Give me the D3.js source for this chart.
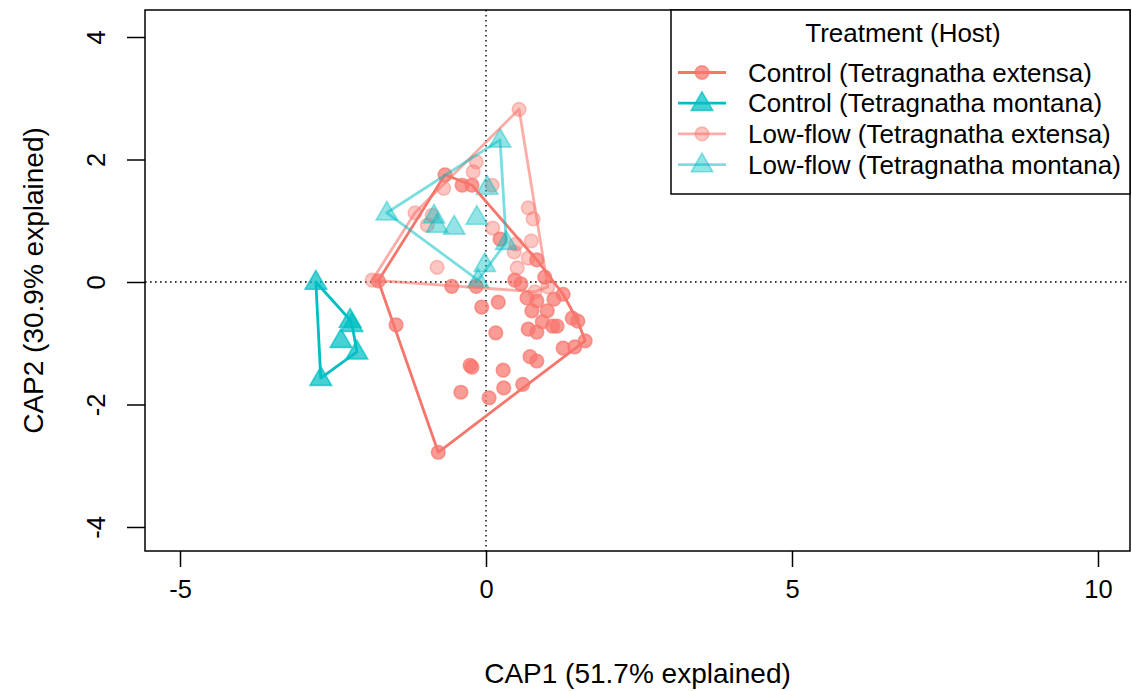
<!DOCTYPE html>
<html>
<head>
<meta charset="utf-8">
<script src="https://cdn.jsdelivr.net/npm/d3@7"></script>
<style>
  html, body { margin: 0; padding: 0; background: #fff; }
  svg { display: block; font-family: "Liberation Sans", Arial, sans-serif; }
</style>
</head>
<body>
<svg id="chart" width="1132" height="691"></svg>
<script>
// CAP ordination scores, one array pair per treatment × host group
const groupNames = [
  "Control (Tetragnatha extensa)",
  "Control (Tetragnatha montana)",
  "Low-flow (Tetragnatha extensa)",
  "Low-flow (Tetragnatha montana)"
];

const ctrlExtensaCAP1 = [-0.67, -0.39, -0.23, -1.76, -0.56, -0.16, 0.23, 0.83, 0.96, 0.47,
  0.57, 1.26, -0.07, 0.20, 0.16, -0.26, -0.23, 0.28, -0.41, 0.05,
  0.29, 0.60, 0.67, 0.83, 0.75, 1.00, 1.11, 0.92, 0.69, 0.83,
  1.09, 1.16, 1.41, 1.50, 1.62, 1.26, 1.45, 0.72, 0.83, -1.47, -0.78];
const ctrlExtensaCAP2 = [1.75, 1.58, 1.58, 0.02, -0.07, -0.07, 0.70, 0.36, 0.08, 0.03,
  -0.03, -0.20, -0.41, -0.33, -0.83, -1.36, -1.39, -1.44, -1.80, -1.89,
  -1.73, -1.67, -0.26, -0.31, -0.47, -0.47, -0.28, -0.65, -0.77, -0.82,
  -0.72, -0.72, -0.59, -0.64, -0.96, -1.08, -1.06, -1.22, -1.29, -0.70, -2.78];

const ctrlMontanaCAP1 = [-2.78, -2.22, -2.19, -2.37, -2.11, -2.70];
const ctrlMontanaCAP2 = [0.00, -0.62, -0.69, -0.95, -1.14, -1.57];

const lowExtensaCAP1 = [0.54, -0.16, -0.21, 0.10, -0.69, -1.16, -0.96, -0.88, -0.80, -1.86,
  0.69, 0.77, 0.11, 0.74, 0.49, 0.46, 0.51, 0.69, 0.80, 1.01];
const lowExtensaCAP2 = [2.82, 1.96, 1.80, 1.58, 1.53, 1.13, 0.93, 1.09, 0.24, 0.03,
  1.21, 1.03, 0.88, 0.67, 0.62, 0.49, 0.23, 0.39, -0.16, -0.08];

const lowMontanaCAP1 = [0.23, -1.62, -0.85, -0.80, -0.52, -0.15, 0.02, 0.33, -0.02, -0.13];
const lowMontanaCAP2 = [2.32, 1.13, 1.08, 0.93, 0.90, 1.06, 1.55, 0.65, 0.29, 0.03];

const xTicks = [-5, 0, 5, 10];
const yTicks = [-4, -2, 0, 2, 4];

const legendTitle = "Treatment (Host)";
const xTitle = "CAP1 (51.7% explained)";
const yTitle = "CAP2 (30.9% explained)";

// Styling per group
const groupStyles = [
  { shape: "circle",   point: "rgba(248,118,109,0.72)", line: "rgb(246,118,108)" },
  { shape: "triangle", point: "rgba(0,191,196,0.72)",   line: "rgb(0,190,195)" },
  { shape: "circle",   point: "rgba(248,118,109,0.42)", line: "rgba(248,118,109,0.6)" },
  { shape: "triangle", point: "rgba(0,191,196,0.42)",   line: "rgba(0,191,196,0.52)" }
];

const groups = [
  [ctrlExtensaCAP1, ctrlExtensaCAP2],
  [ctrlMontanaCAP1, ctrlMontanaCAP2],
  [lowExtensaCAP1, lowExtensaCAP2],
  [lowMontanaCAP1, lowMontanaCAP2]
].map(([xs, ys], i) => ({
  name: groupNames[i],
  style: groupStyles[i],
  pts: xs.map((x, j) => [x, ys[j]])
}));

const FONT = "25.5px";
const LEGEND_FONT = "26px";
const TITLE_FONT = "28px";
const svg = d3.select("#chart");
const plot = { left: 145, right: 1130, top: 10, bottom: 551 };

const x = d3.scaleLinear().domain([-5.572, 10.523]).range([plot.left, plot.right]);
const y = d3.scaleLinear().domain([-4.392, 4.441]).range([plot.bottom, plot.top]);

const triangle = d3.symbol().type(d3.symbolTriangle).size(200);

function drawMarker(sel, style) {
  if (style.shape === "circle") {
    sel.append("circle").attr("r", 6.8)
      .attr("fill", style.point).attr("stroke", style.point).attr("stroke-width", 1.6);
  } else {
    sel.append("path").attr("d", triangle).attr("transform", "translate(0,1)")
      .attr("fill", style.point).attr("stroke", style.point).attr("stroke-width", 1.6)
      .attr("stroke-linejoin", "miter");
  }
}

// Reference lines through the origin
const clipId = "plotClip";
svg.append("clipPath").attr("id", clipId).append("rect")
  .attr("x", plot.left).attr("y", plot.top)
  .attr("width", plot.right - plot.left).attr("height", plot.bottom - plot.top);

const inner = svg.append("g").attr("clip-path", `url(#${clipId})`);

inner.append("line")
  .attr("x1", plot.left).attr("x2", plot.right)
  .attr("y1", y(0)).attr("y2", y(0))
  .attr("stroke", "#000").attr("stroke-width", 1.4).attr("stroke-dasharray", "1.6,3.4");
inner.append("line")
  .attr("x1", x(0)).attr("x2", x(0))
  .attr("y1", plot.top).attr("y2", plot.bottom)
  .attr("stroke", "#000").attr("stroke-width", 1.4).attr("stroke-dasharray", "1.6,3.4");

// Points
groups.forEach(g => {
  const pg = inner.append("g");
  g.pts.forEach(p => {
    const m = pg.append("g").attr("transform", `translate(${x(p[0])},${y(p[1])})`);
    drawMarker(m, g.style);
  });
});

// Convex hulls around each group
groups.forEach(g => {
  const hull = d3.polygonHull(g.pts.map(p => [x(p[0]), y(p[1])]));
  inner.append("path")
    .attr("d", "M" + hull.map(p => p.join(",")).join("L") + "Z")
    .attr("fill", "none")
    .attr("stroke", g.style.line)
    .attr("stroke-width", 2.8)
    .attr("stroke-linejoin", "round");
});

// Frame
svg.append("rect")
  .attr("x", plot.left).attr("y", plot.top)
  .attr("width", plot.right - plot.left).attr("height", plot.bottom - plot.top)
  .attr("fill", "none").attr("stroke", "#000").attr("stroke-width", 1.5);

// Axes (plain hyphen for negative labels)
const fmt = d => String(d);
const xAxis = svg.append("g").attr("transform", `translate(0,${plot.bottom})`)
  .call(d3.axisBottom(x).tickValues(xTicks).tickSize(16).tickPadding(13).tickFormat(fmt));
const yAxis = svg.append("g").attr("transform", `translate(${plot.left},0)`)
  .call(d3.axisLeft(y).tickValues(yTicks).tickSize(18).tickPadding(0).tickFormat(fmt));

[xAxis, yAxis].forEach(a => {
  a.select(".domain").remove();
  a.selectAll(".tick line").attr("stroke", "#000").attr("stroke-width", 1.5);
  a.selectAll(".tick text").attr("fill", "#000").style("font-size", FONT)
    .style("font-family", "'Liberation Sans', Arial, sans-serif");
});

xAxis.selectAll(".tick text").attr("dy", "0.71em");

// Rotated y tick labels
yAxis.selectAll(".tick text")
  .attr("x", null).attr("dy", null)
  .attr("text-anchor", "middle")
  .attr("transform", "translate(-49,0) rotate(-90)")
  .attr("dominant-baseline", "central");

// Axis titles
svg.append("text")
  .attr("x", (plot.left + plot.right) / 2).attr("y", 683)
  .attr("text-anchor", "middle").style("font-size", TITLE_FONT).text(xTitle);

svg.append("text")
  .attr("transform", `translate(43,${(plot.top + plot.bottom) / 2}) rotate(-90)`)
  .attr("text-anchor", "middle").style("font-size", TITLE_FONT).text(yTitle);

// Legend
const legend = svg.append("g");
const lg = { left: 671, top: 10, right: 1130, bottom: 194 };
legend.append("rect")
  .attr("x", lg.left).attr("y", lg.top)
  .attr("width", lg.right - lg.left).attr("height", lg.bottom - lg.top)
  .attr("fill", "#fff").attr("stroke", "#000").attr("stroke-width", 1.5);

legend.append("text")
  .attr("x", 903).attr("y", 33)
  .attr("dominant-baseline", "central")
  .attr("text-anchor", "middle").style("font-size", LEGEND_FONT).text(legendTitle);

groups.forEach((g, i) => {
  const yy = 72.5 + i * 30.7;
  legend.append("line")
    .attr("x1", 678).attr("x2", 726).attr("y1", yy).attr("y2", yy)
    .attr("stroke", g.style.line).attr("stroke-width", 2.8);
  const m = legend.append("g").attr("transform", `translate(702,${yy})`);
  drawMarker(m, g.style);
  legend.append("text")
    .attr("x", 748).attr("y", yy)
    .attr("dominant-baseline", "central")
    .style("font-size", LEGEND_FONT).text(g.name);
});
</script>
</body>
</html>
